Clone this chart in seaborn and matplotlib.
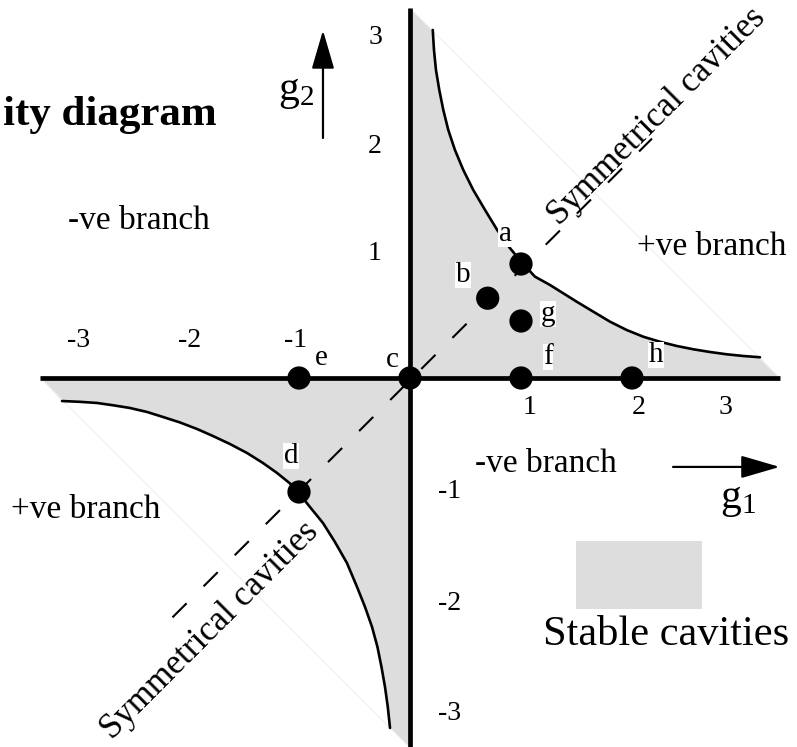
import numpy as np
import pandas as pd
import matplotlib
matplotlib.use("Agg")
import matplotlib.pyplot as plt
from matplotlib.patches import Rectangle
import seaborn as sns

# --- data ---
# upper-right stability boundary (hand drawn g1*g2 = 1 branch)
upper_g1 = [0.205, 0.216, 0.234, 0.264, 0.300, 0.345, 0.405, 0.480, 0.570, 0.676,
            0.786, 0.900, 1.010, 1.126, 1.261, 1.381, 1.502, 1.651, 1.802, 1.952,
            2.102, 2.252, 2.403, 2.552, 2.703, 2.853, 3.003, 3.153]
upper_g2 = [3.053, 2.877, 2.702, 2.526, 2.351, 2.175, 2.000, 1.825, 1.649, 1.474,
            1.298, 1.140, 1.010, 0.889, 0.816, 0.743, 0.669, 0.582, 0.494, 0.421,
            0.362, 0.318, 0.281, 0.252, 0.228, 0.208, 0.193, 0.182]
# lower-left boundary
lower_g1 = [-3.135, -2.973, -2.820, -2.676, -2.523, -2.369, -2.225, -2.072, -1.919,
            -1.775, -1.622, -1.468, -1.324, -1.198, -1.081, -1.009, -0.901, -0.784,
            -0.676, -0.568, -0.477, -0.405, -0.342, -0.293, -0.257, -0.225, -0.200,
            -0.180]
lower_g2 = [-0.202, -0.209, -0.219, -0.239, -0.263, -0.298, -0.342, -0.390, -0.447,
            -0.509, -0.579, -0.658, -0.746, -0.833, -0.925, -1.000, -1.132, -1.272,
            -1.439, -1.623, -1.833, -2.009, -2.184, -2.360, -2.535, -2.711, -2.886,
            -3.070]

# special cavities
point_names = ["a", "b", "c", "d", "e", "f", "g", "h"]
point_g1 = [1, 0.7, 0, -1, -1, 1, 1, 2]
point_g2 = [1, 0.7, 0, -1, 0, 0, 0.5, 0]

# symmetrical cavities line g1 = g2
sym_g1 = [-2.14, 2.18]
sym_g2 = [-2.10, 2.10]

# axis extents
g1_end = 3.33
g2_end = 3.245

x_ticks_neg = ["-3", "-2", "-1"]
x_ticks_pos = ["1", "2", "3"]
y_ticks_pos = ["3", "2", "1"]
y_ticks_neg = ["-1", "-2", "-3"]

# --- style ---
sns.set_theme(style="white")
plt.rcParams["font.family"] = ["Liberation Serif", "DejaVu Serif"]
plt.rcParams["text.color"] = "black"
plt.rcParams["mathtext.fontset"] = "custom"
plt.rcParams["mathtext.rm"] = "Liberation Serif"
plt.rcParams["mathtext.it"] = "Liberation Serif:italic"

grey = "#dddddd"

fig = plt.figure(figsize=(7.97, 7.47), dpi=100)
ax = fig.add_axes([0, 0, 1, 1])
ax.set_xlim(-410 / 111, 387 / 111)
ax.set_ylim(-369 / 114, 378 / 114)
ax.set_axis_off()

# stable regions
up_x = [0, 0] + upper_g1 + [g1_end]
up_y = [0, g2_end] + upper_g2 + [0]
ax.fill(up_x, up_y, color=grey, lw=0, zorder=1)
lo_x = [0, -g1_end] + lower_g1 + [0]
lo_y = [0, 0] + lower_g2 + [-g2_end]
ax.fill(lo_x, lo_y, color=grey, lw=0, zorder=1)

# faint outer diagonals
ax.plot([0, g1_end], [g2_end, 0], color="#f0f0f0", lw=0.8, zorder=1.5)
ax.plot([-g1_end, 0], [0, -g2_end], color="#f0f0f0", lw=0.8, zorder=1.5)

# boundary curves
curves = pd.DataFrame({"g1": upper_g1, "g2": upper_g2})
sns.lineplot(data=curves, x="g1", y="g2", sort=False, estimator=None,
             color="black", lw=1.9, ax=ax, zorder=3)
curves_lo = pd.DataFrame({"g1": lower_g1, "g2": lower_g2})
sns.lineplot(data=curves_lo, x="g1", y="g2", sort=False, estimator=None,
             color="black", lw=1.9, ax=ax, zorder=3)

# symmetrical cavities dashed line
sym_line, = ax.plot(sym_g1, sym_g2, color="black", lw=1.5, zorder=3)
sym_line.set_dashes([9.6, 11.5])

# axes lines
ax.plot([-g1_end, g1_end], [0, 0], color="black", lw=3.4, solid_capstyle="butt", zorder=4)
ax.plot([0, 0], [-3.3, g2_end], color="black", lw=3.4, solid_capstyle="butt", zorder=4)

# special points
pts = pd.DataFrame({"g1": point_g1, "g2": point_g2, "name": point_names})
sns.scatterplot(data=pts, x="g1", y="g2", color="black", s=280,
                edgecolor="none", ax=ax, zorder=5, legend=False)

label_pos = {
    "a": (0.856, 1.263), "b": (0.477, 0.904), "c": (-0.162, 0.158),
    "d": (-1.072, -0.684), "e": (-0.80, 0.175), "f": (1.243, 0.184),
    "g": (1.243, 0.561), "h": (2.216, 0.202),
}
for name in point_names:
    lx, ly = label_pos[name]
    ax.text(lx, ly, name, fontsize=21, ha="center", va="center", zorder=6,
            bbox=dict(facecolor="white", edgecolor="none", pad=0.3))

# tick labels
for lab, px in zip(x_ticks_neg, [-2.99, -1.99, -1.03]):
    ax.text(px, 0.325, lab, fontsize=20, ha="center", va="center")
for lab, px in zip(x_ticks_pos, [1.08, 2.06, 2.84]):
    ax.text(px, -0.255, lab, fontsize=20, ha="center", va="center")
for lab, py in zip(y_ticks_pos, [2.99, 2.03, 1.09]):
    ax.text(-0.315, py, lab, fontsize=20, ha="center", va="center")
for lab, py in zip(y_ticks_neg, [-1.0, -1.98, -2.94]):
    ax.text(0.36, py, lab, fontsize=20, ha="center", va="center")

# axis arrows and names
arrow_kw = dict(arrowstyle="-|>,head_length=24,head_width=7", mutation_scale=1,
                color="black", lw=1.6, shrinkA=0, shrinkB=0)
ax.annotate("", xy=(-0.784, 3.05), xytext=(-0.784, 2.105), arrowprops=arrow_kw)
ax.annotate("", xy=(3.33, -0.78), xytext=(2.37, -0.78), arrowprops=arrow_kw)
ax.text(-1.03, 2.44, r"$\mathrm{g}_2$", fontsize=30, ha="center", va="baseline")
ax.text(2.955, -1.14, r"$\mathrm{g}_1$", fontsize=30, ha="center", va="baseline")

# region labels (title is cut at the left edge in the source figure)
ax.text(-1.739, 2.22, "ity diagram", fontsize=31, fontweight="bold",
        ha="right", va="baseline")
ax.text(-2.44, 1.31, "-ve branch", fontsize=24, ha="center", va="baseline")
ax.text(2.72, 1.08, "+ve branch", fontsize=24, ha="center", va="baseline")
ax.text(-2.92, -1.23, "+ve branch", fontsize=24, ha="center", va="baseline")
ax.text(1.225, -0.825, "-ve branch", fontsize=24, ha="center", va="baseline")
ax.text(2.276, 2.237, "Symmetrical cavities", fontsize=25, rotation=45,
        rotation_mode="anchor", ha="center", va="baseline", zorder=6)
ax.text(-1.745, -2.27, "Symmetrical cavities", fontsize=25, rotation=45,
        rotation_mode="anchor", ha="center", va="baseline", zorder=6)

# legend swatch
ax.add_patch(Rectangle((1.495, -2.03), 1.135, 0.60, facecolor=grey, edgecolor="none"))
ax.text(2.306, -2.342, "Stable cavities", fontsize=30.5, ha="center", va="baseline")

fig.savefig("out.png", dpi=100, facecolor="white")
